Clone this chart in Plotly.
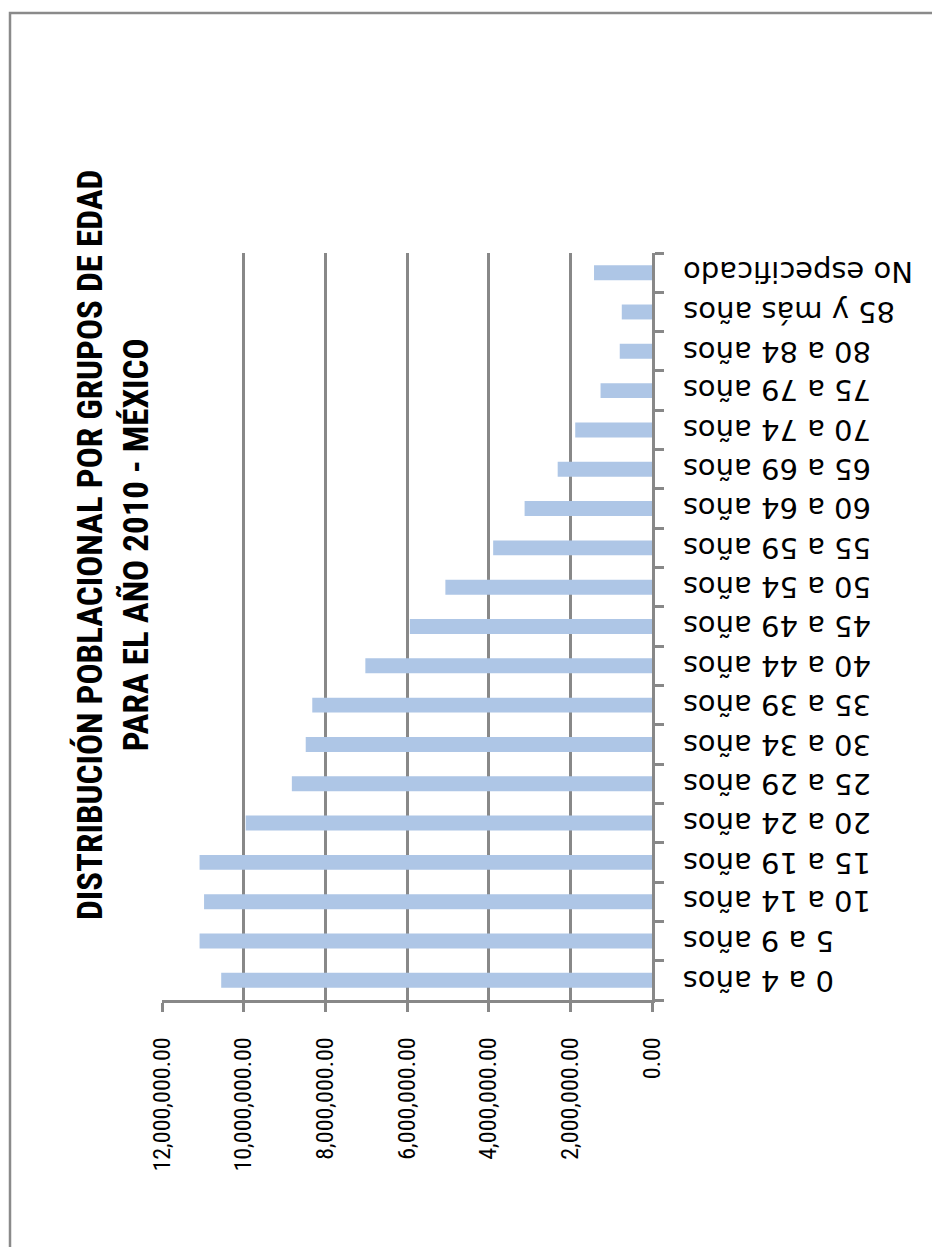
import plotly.graph_objects as go

categories = ["0 a 4 años", "5 a 9 años", "10 a 14 años", "15 a 19 años", "20 a 24 años",
              "25 a 29 años", "30 a 34 años", "35 a 39 años", "40 a 44 años", "45 a 49 años",
              "50 a 54 años", "55 a 59 años", "60 a 64 años", "65 a 69 años", "70 a 74 años",
              "75 a 79 años", "80 a 84 años", "85 y más años", "No especificado"]
values = [10550000, 11080000, 10970000, 11080000, 9950000,
          8820000, 8480000, 8320000, 7020000, 5930000,
          5060000, 3890000, 3120000, 2310000, 1880000,
          1260000, 790000, 740000, 1420000]
value_ticks = [0, 2000000, 4000000, 6000000, 8000000, 10000000, 12000000]
title_text = "DISTRIBUCIÓN POBLACIONAL POR GRUPOS DE EDAD<br>PARA EL AÑO 2010 - MÉXICO"

W, H = 932, 1247
L, R, T, B = 162, 652, 253, 1000
GRAY = "#888888"
NARROW = "Roboto Condensed, Liberation Sans Narrow, Arial Narrow, sans-serif"

fig = go.Figure(go.Bar(
    x=values, y=categories, orientation="h",
    marker=dict(color="#AEC6E6", line=dict(width=0)),
))

# upside-down category labels, placed on the category axis positions
cat_annotations = [dict(text=c, xref="paper", yref="y", x=(681 - L) / (R - L), y=c,
                        xanchor="left", yanchor="middle", textangle=180, showarrow=False,
                        font=dict(family="DejaVu Sans", size=29, color="black"))
                   for c in categories]

fig.update_layout(
    width=W, height=H,
    margin=dict(l=L, r=W - R, t=T, b=H - B, pad=0),
    plot_bgcolor="white", paper_bgcolor="white",
    bargap=0.62,
    showlegend=False,
    xaxis=dict(
        range=[12000000, 0], tickvals=value_ticks, tickformat=",.2f",
        tickangle=-90, showgrid=True, gridcolor=GRAY, gridwidth=2.5,
        showline=True, linecolor=GRAY, linewidth=2.5,
        ticks="outside", ticklen=9, tickwidth=2.5, tickcolor=GRAY,
        ticklabelstandoff=16,
        tickfont=dict(family=NARROW, size=24, color="black"),
        zeroline=False, fixedrange=True,
    ),
    yaxis=dict(
        type="category", categoryorder="array", categoryarray=categories,
        side="right", showticklabels=False, showgrid=False,
        showline=True, linecolor=GRAY, linewidth=2.5,
        ticks="outside", ticklen=9, tickwidth=2.5, tickcolor=GRAY,
        tickson="boundaries",
        range=[-0.5, len(categories) - 0.5], fixedrange=True,
    ),
    shapes=[dict(type="rect", xref="paper", yref="paper",
                 x0=(10 - L) / (R - L), x1=2.0,
                 y0=-1.0, y1=(B - 13) / (B - T),
                 line=dict(color="#8A8A8A", width=2.5), fillcolor="rgba(0,0,0,0)", layer="below")],
    annotations=[dict(text="<b>" + title_text + "</b>", xref="paper", yref="paper",
                      x=(113 - L) / (R - L), y=(B - 545) / (B - T),
                      xanchor="center", yanchor="middle", textangle=-90, showarrow=False,
                      font=dict(family=NARROW, size=35, color="black"))] + cat_annotations,
)

fig.write_html("out.html", config={"displayModeBar": False},
               post_script="document.body.style.margin='0';")
